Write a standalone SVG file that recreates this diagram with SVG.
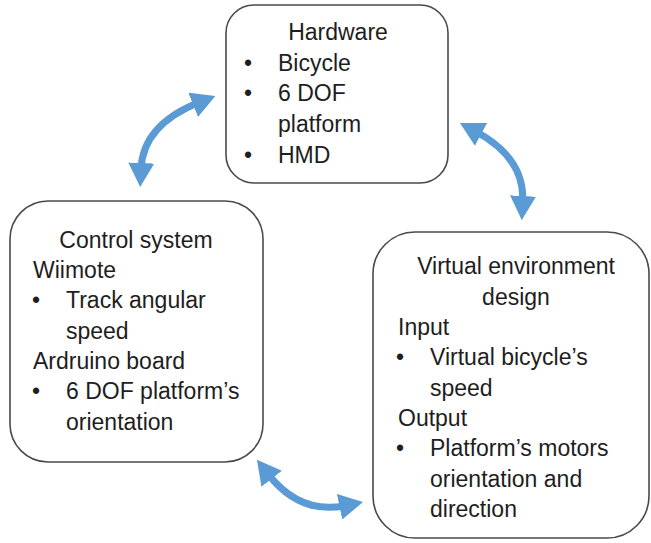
<svg xmlns="http://www.w3.org/2000/svg" width="651" height="543" viewBox="0 0 651 543">
<defs>
<style>
.box{fill:#fff;stroke:#4a4a4a;stroke-width:1.6}
text{font-family:"Liberation Sans",Arial,sans-serif;font-size:23px;fill:#1e1e1e}
.c{text-anchor:middle}
.arr{fill:none;stroke:#5B9BD5;stroke-width:7;marker-start:url(#head);marker-end:url(#head)}
</style>
<marker id="head" markerUnits="userSpaceOnUse" markerWidth="24" markerHeight="26" viewBox="0 0 24 26" refX="6" refY="13" orient="auto-start-reverse">
<path d="M0,0 L24,13 L0,26 z" fill="#5B9BD5"/>
</marker>
</defs>
<rect width="651" height="543" fill="#fff"/>
<g id="connectors">
<path class="arr" d="M141,169 Q143,125 198.7,102.6"/>
<path class="arr" d="M475.8,131.5 Q525,158 522.7,202"/>
<path class="arr" d="M268,474 Q300,515 345.4,505.6"/>
</g>
<g id="hardware">
<rect class="box" x="226" y="5" width="222" height="178" rx="28"/>
<text class="c" x="338" y="40">Hardware</text>
<text x="244" y="71">•</text><text x="278" y="71">Bicycle</text>
<text x="244" y="101">•</text><text x="278" y="101">6 DOF</text>
<text x="278" y="132">platform</text>
<text x="244" y="163">•</text><text x="278" y="163">HMD</text>
</g>
<g id="control">
<rect class="box" x="10" y="201" width="253" height="261" rx="38"/>
<text class="c" x="136" y="248">Control system</text>
<text x="33" y="278">Wiimote</text>
<text x="32" y="308">•</text><text x="66" y="308">Track angular</text>
<text x="66" y="339">speed</text>
<text x="33" y="369">Ardruino board</text>
<text x="32" y="399">•</text><text x="66" y="399">6 DOF platform’s</text>
<text x="66" y="430">orientation</text>
</g>
<g id="virtual">
<rect class="box" x="373" y="232" width="276" height="306" rx="42"/>
<text class="c" x="516" y="274">Virtual environment</text>
<text class="c" x="516" y="305">design</text>
<text x="398" y="335">Input</text>
<text x="396" y="365">•</text><text x="430" y="365">Virtual bicycle’s</text>
<text x="430" y="396">speed</text>
<text x="398" y="426">Output</text>
<text x="396" y="456">•</text><text x="430" y="456">Platform’s motors</text>
<text x="430" y="487">orientation and</text>
<text x="430" y="517">direction</text>
</g>
</svg>
